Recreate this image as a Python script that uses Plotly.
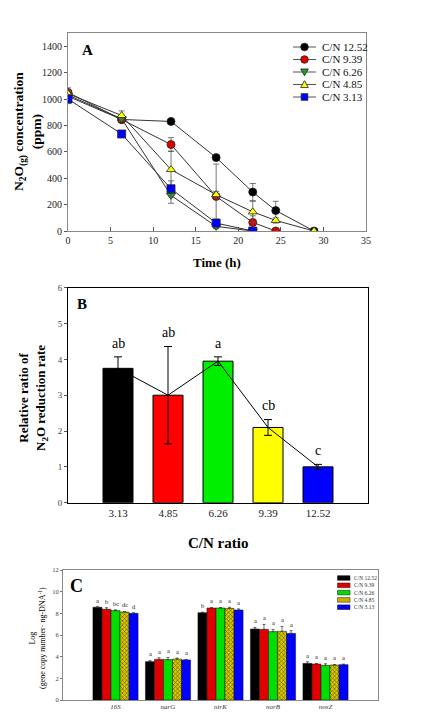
import plotly.graph_objects as go

# ---------------- Panel A data ----------------
a_names = ["C/N 12.52", "C/N 9.39", "C/N 6.26", "C/N 4.85", "C/N 3.13"]
a_x = [
    [0, 6.3, 12.1, 17.4, 21.7, 24.4, 28.9],
    [0, 6.3, 12.1, 17.4, 21.7, 24.4],
    [0, 6.3, 12.1, 17.4, 21.7],
    [0, 6.3, 12.1, 17.4, 21.7, 24.4, 28.9],
    [0, 6.3, 12.1, 17.4, 21.7],
]
a_y = [
    [1020, 845, 830, 556, 295, 155, 0],
    [1050, 845, 655, 262, 65, 0],
    [1030, 850, 270, 35, 0],
    [1040, 875, 465, 275, 145, 80, 0],
    [1000, 735, 320, 60, 0],
]
a_err = [
    [30, 15, 15, 20, 65, 70, 0],
    [35, 15, 52, 245, 50, 0],
    [30, 20, 60, 15, 0],
    [30, 35, 140, 25, 80, 20, 0],
    [35, 15, 60, 30, 0],
]
a_colors = ["#000000", "#e00000", "#20a020", "#ffff00", "#0000ff"]
a_symbols = ["circle", "circle", "triangle-down", "triangle-up", "square"]

# ---------------- Panel B data ----------------
b_cats = ["3.13", "4.85", "6.26", "9.39", "12.52"]
b_vals = [3.75, 3.0, 3.95, 2.1, 1.0]
b_err = [0.32, 1.36, 0.12, 0.22, 0.07]
b_letters = ["ab", "ab", "a", "cb", "c"]
b_colors = ["#000000", "#ff0000", "#00ee00", "#ffff00", "#0000ff"]

# ---------------- Panel C data ----------------
genes = ["16S", "narG", "nirK", "norB", "nosZ"]
c_names = ["C/N 12.52", "C/N 9.39", "C/N 6.26", "C/N 4.85", "C/N 3.13"]
c_vals = [
    [8.56, 3.54, 8.06, 6.55, 3.38],
    [8.37, 3.75, 8.49, 6.52, 3.32],
    [8.25, 3.73, 8.49, 6.31, 3.20],
    [8.12, 3.78, 8.46, 6.34, 3.23],
    [8.00, 3.70, 8.31, 6.15, 3.26],
]
c_err = [
    [0.05, 0.10, 0.05, 0.15, 0.15],
    [0.15, 0.15, 0.05, 0.45, 0.05],
    [0.08, 0.20, 0.05, 0.20, 0.15],
    [0.05, 0.10, 0.10, 0.45, 0.05],
    [0.05, 0.05, 0.10, 0.25, 0.05],
]
c_letters = [
    ["a", "a", "b", "a", "a"],
    ["b", "a", "a", "a", "a"],
    ["bc", "a", "a", "a", "a"],
    ["dc", "a", "a", "a", "a"],
    ["d", "a", "a", "a", "a"],
]
c_colors = ["#000000", "#e00000", "#00dd00", "#c8b400", "#0000ff"]

SERIF = "Liberation Serif, Times New Roman, serif"
OFF = 8  # page body margin
W, H = 435 - 2 * OFF, 720 - 2 * OFF


def px(x):
    return (x - OFF) / W


def py(y):
    return 1 - (y - OFF) / H


fig = go.Figure()

# ---- Panel A traces ----
for i in range(5):
    fig.add_trace(go.Scatter(
        x=a_x[i], y=a_y[i], name=a_names[i], mode="lines+markers",
        line=dict(color="#333333", width=1),
        marker=dict(symbol=a_symbols[i], color=a_colors[i], size=8,
                    line=dict(color="#222222", width=0.8)),
        error_y=dict(type="data", array=a_err[i], color="#555555", thickness=0.8, width=3),
        xaxis="x", yaxis="y", showlegend=False,
    ))

# ---- Panel B traces ----
fig.add_trace(go.Bar(
    x=b_cats, y=b_vals, width=0.6,
    marker=dict(color=b_colors, line=dict(color="#000000", width=1)),
    error_y=dict(type="data", array=b_err, color="#000000", thickness=1, width=4),
    xaxis="x2", yaxis="y2", showlegend=False,
))
fig.add_trace(go.Scatter(
    x=b_cats, y=b_vals, mode="lines", line=dict(color="#000000", width=1),
    xaxis="x2", yaxis="y2", showlegend=False,
))

# ---- Panel C traces ----
HATCH = dict(shape="x", size=3, solidity=0.4, fgcolor="#6e6400", bgcolor="#d8c800", fillmode="replace")
for i in range(5):
    marker = dict(color=c_colors[i], line=dict(color="#111111", width=0.5))
    if i == 3:
        marker["pattern"] = HATCH
    fig.add_trace(go.Bar(
        x=genes, y=c_vals[i], name=c_names[i], marker=marker,
        error_y=dict(type="data", symmetric=False, array=c_err[i],
                     arrayminus=[0] * 5, color="#333333", thickness=0.7, width=1.5),
        xaxis="x3", yaxis="y3", showlegend=False,
    ))

annotations = []
shapes = []
# Panel B letters
for i in range(len(b_cats)):
    annotations.append(dict(x=i, y=b_vals[i] + b_err[i] + 0.12, xref="x2", yref="y2",
                            text=b_letters[i], showarrow=False, xanchor="center", yanchor="bottom",
                            font=dict(family=SERIF, size=14, color="#000")))
# Panel C letters
for i in range(5):
    for j in range(len(genes)):
        annotations.append(dict(x=j, y=c_vals[i][j] + c_err[i][j] + 0.1, xref="x3", yref="y3",
                                text=c_letters[i][j], showarrow=False, xanchor="center", yanchor="bottom",
                                xshift=(i - 2) * 9.0,
                                font=dict(family=SERIF, size=6.5, color="#222")))

# ---- Legend A (drawn compactly) ----
for i in range(5):
    yc = 47 + 12.5 * i
    shapes.append(dict(type="line", xref="paper", yref="paper",
                       x0=px(293), x1=px(316), y0=py(yc), y1=py(yc),
                       line=dict(color="#555", width=1)))
    cx, s = 304.5, 3.8
    fill = a_colors[i]
    ln = dict(color="#222", width=0.8)
    sym = a_symbols[i]
    if sym == "circle":
        shapes.append(dict(type="circle", xref="paper", yref="paper",
                           x0=px(cx - s), x1=px(cx + s), y0=py(yc + s), y1=py(yc - s),
                           fillcolor=fill, line=ln))
    elif sym == "square":
        shapes.append(dict(type="rect", xref="paper", yref="paper",
                           x0=px(cx - s + 0.5), x1=px(cx + s - 0.5), y0=py(yc + s - 0.5), y1=py(yc - s + 0.5),
                           fillcolor=fill, line=ln))
    else:
        sgn = 1 if sym == "triangle-up" else -1
        pts = [(cx - s, yc + sgn * s * 0.8), (cx + s, yc + sgn * s * 0.8), (cx, yc - sgn * s)]
        path = "M{:.5f},{:.5f} L{:.5f},{:.5f} L{:.5f},{:.5f} Z".format(
            px(pts[0][0]), py(pts[0][1]), px(pts[1][0]), py(pts[1][1]), px(pts[2][0]), py(pts[2][1]))
        shapes.append(dict(type="path", xref="paper", yref="paper", path=path,
                           fillcolor=fill, line=ln))
    annotations.append(dict(x=px(320), y=py(yc), xref="paper", yref="paper", text=a_names[i],
                            showarrow=False, xanchor="left", yanchor="middle",
                            font=dict(family=SERIF, size=11, color="#111")))

# ---- Legend C (drawn compactly) ----
for i in range(5):
    yc = 578 + 7.3 * i
    rect = dict(type="rect", xref="paper", yref="paper",
                x0=px(337.5), x1=px(350), y0=py(yc + 2.3), y1=py(yc - 2.3),
                fillcolor=c_colors[i], line=dict(color="#111", width=0.5))
    shapes.append(rect)
    annotations.append(dict(x=px(352), y=py(yc), xref="paper", yref="paper", text=c_names[i],
                            showarrow=False, xanchor="left", yanchor="middle",
                            font=dict(family=SERIF, size=5.5, color="#333")))


def label(x, y, text, size, angle=0):
    return dict(x=px(x), y=py(y), xref="paper", yref="paper", text=text, showarrow=False,
                xanchor="center", yanchor="middle", textangle=angle,
                font=dict(family=SERIF, size=size, color="#000"))


# Panel letters and titles
annotations += [
    label(87, 50, "<b>A</b>", 15),
    label(82, 304, "<b>B</b>", 15),
    label(76, 586, "<b>C</b>", 18),
    label(217, 262, "<b>Time (h)</b>", 13),
    label(27, 132, "<b>N<sub>2</sub>O<sub>(g)</sub> concentration<br>(ppm)</b>", 13.5, -90),
    label(33, 398, "<b>Relative ratio of<br>N<sub>2</sub>O reduction rate</b>", 13, -90),
    label(218, 543, "<b>C/N ratio</b>", 15),
    label(37, 638, "Log<br>(gene copy number· ng-DNA<sup>-1</sup>)", 8, -90),
]

fig.update_layout(
    width=W, height=H, margin=dict(l=0, r=0, t=0, b=0, autoexpand=False),
    paper_bgcolor="white", plot_bgcolor="white",
    font=dict(family=SERIF, color="#000"),
    barmode="group", bargap=0.14, bargroupgap=0,
    annotations=annotations, shapes=shapes, showlegend=False,
    # Panel A axes
    xaxis=dict(domain=[px(68), px(366)], anchor="y", range=[0, 35], dtick=5, automargin=False,
               showline=True, linecolor="#888", linewidth=1, mirror=True,
               ticks="inside", ticklen=4, tickcolor="#555", showgrid=False, zeroline=False,
               tickfont=dict(size=10, family=SERIF, color="#222")),
    yaxis=dict(domain=[py(231), py(33)], anchor="x", range=[0, 1500], automargin=False,
               tickvals=[0, 200, 400, 600, 800, 1000, 1200, 1400],
               showline=True, linecolor="#888", linewidth=1, mirror=True,
               ticks="outside", ticklen=3, tickcolor="#555", showgrid=False, zeroline=False,
               tickfont=dict(size=10, family=SERIF, color="#222")),
    # Panel B axes
    xaxis2=dict(domain=[px(68), px(368)], anchor="y2", type="category", range=[-1, 5], automargin=False,
                showline=True, linecolor="#000", linewidth=1, mirror=True,
                ticks="", showgrid=False, zeroline=False,
                tickfont=dict(size=11, family=SERIF, color="#222")),
    yaxis2=dict(domain=[py(502.7), py(287.7)], anchor="x2", range=[0, 6], dtick=1, automargin=False,
                showline=True, linecolor="#000", linewidth=1, mirror=True,
                ticks="outside", ticklen=3, tickcolor="#555", showgrid=False, zeroline=False,
                tickfont=dict(size=9, family=SERIF, color="#444")),
    # Panel C axes
    xaxis3=dict(domain=[px(63), px(378)], anchor="y3", type="category", range=[-1, 5], automargin=False,
                tickvals=genes, ticktext=["<i>%s</i>" % g for g in genes],
                showline=True, linecolor="#888", linewidth=1, mirror=True,
                ticks="", showgrid=False, zeroline=False,
                tickfont=dict(size=7, family=SERIF, color="#333")),
    yaxis3=dict(domain=[py(700), py(570)], anchor="x3", range=[0, 12], dtick=2, automargin=False,
                showline=True, linecolor="#888", linewidth=1, mirror=True,
                ticks="outside", ticklen=2, tickcolor="#777", showgrid=False, zeroline=False,
                tickfont=dict(size=6.5, family=SERIF, color="#444")),
)

fig.write_html("out.html")
